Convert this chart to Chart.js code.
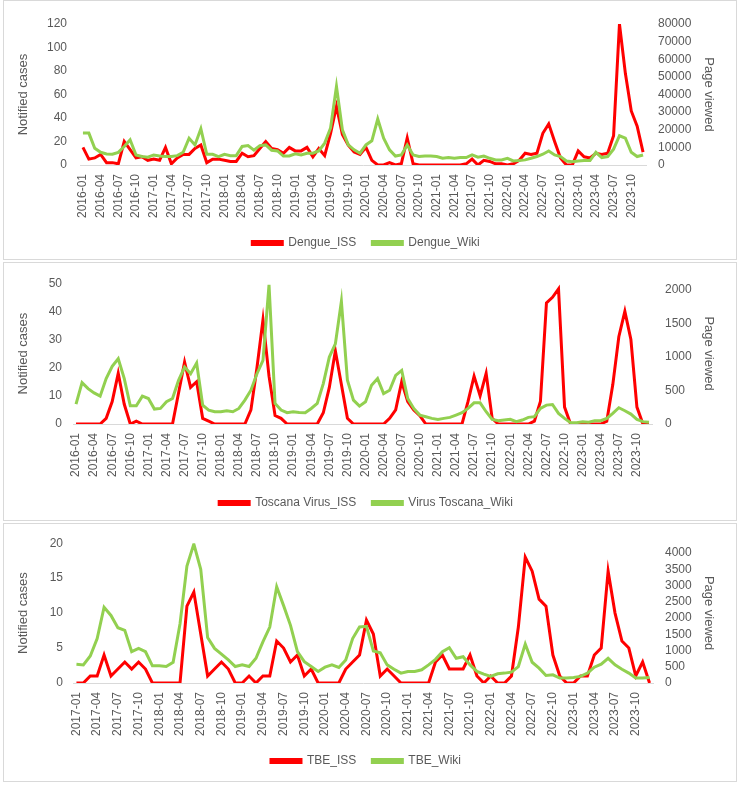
<!DOCTYPE html>
<html>
<head>
<meta charset="utf-8">
<script src="https://cdn.jsdelivr.net/npm/chart.js@4/dist/chart.umd.min.js"></script>
<style>
  body { margin: 0; background: #fff; }
  .panel { position: absolute; left: 3px; width: 732px; border: 1px solid #d9d9d9; background: #fff; }
  canvas { display: block; }
</style>
</head>
<body>
<div class="panel" style="top:0px;height:258px"><canvas id="dengue" width="732" height="258"></canvas></div>
<div class="panel" style="top:262px;height:257px"><canvas id="toscana" width="732" height="257"></canvas></div>
<div class="panel" style="top:523px;height:257px"><canvas id="tbe" width="732" height="257"></canvas></div>
<script>
// monthly values
var dengue_iss = [15,5,6,9,2,2,1,20,13,6,7,4,
  5,4,15,1,6,9,9,14,17,2,5,5,
  4,3,3,10,7,8,14,20,14,13,10,15,
  12,12,15,7,14,8,27,50,26,17,11,9,
  15,4,0,0,2,0,1,23,1,0,0,0,
  0,0,0,0,0,1,5,0,4,3,1,1,
  0,1,4,10,9,10,27,35,20,6,0,0,
  12,7,6,10,9,10,25,120,78,46,33,11];
var dengue_wiki = [18100,18100,9500,7200,6300,6100,7200,10500,14300,5700,4800,4400,
  5700,5100,4800,4800,5300,7200,15200,11400,20600,6100,6100,4800,
  6100,5300,5300,10500,11000,8400,11000,11400,8400,8000,5100,5100,
  6300,5700,6700,6700,8000,12400,21000,44600,20000,11400,8600,6700,
  11400,13700,26100,15200,8600,5100,5700,11400,5700,4800,5100,5100,
  4800,3800,4200,3800,4200,4200,5700,4400,5100,3800,2900,2900,
  3800,2300,2500,2900,3800,4800,6100,8000,5700,4800,2300,1900,
  2300,2500,2500,7200,4200,4800,9000,16600,15200,7200,4800,5700];

var toscana_iss = [0,0,0,0,0,2,8,18,7,0,1,0,
  0,0,0,0,0,11,22,13,15,2,1,0,
  0,0,0,0,0,5,20,37,17,3,2,0,
  0,0,0,0,0,4,13,26,14,2,0,0,
  0,0,0,0,2,5,15,8,5,3,0,0,
  0,0,0,0,0,8,17,10,18,2,0,0,
  0,0,0,0,1,8,43,45,48,6,0,0,
  0,0,0,0,1,14,31,40,30,6,0,0];
var toscana_wiki = [296,617,528,464,415,677,860,973,677,272,272,415,
  380,222,232,331,380,652,850,750,909,282,207,183,
  183,198,183,232,356,504,750,948,2075,306,207,168,
  183,173,168,232,306,603,998,1195,1828,652,356,267,
  331,578,677,454,504,726,800,380,232,133,109,84,
  69,84,99,133,168,232,316,316,183,69,49,59,
  69,35,59,99,109,232,282,291,158,84,20,20,
  35,25,49,49,84,158,242,198,148,69,35,25];

var tbe_iss = [0,0,1,1,4,1,2,3,2,3,2,0,
  0,0,0,0,11,13,7,1,2,3,2,0,
  0,1,0,1,1,6,5,3,4,1,2,0,
  0,0,0,2,3,4,9,7,1,2,1,0,
  0,0,0,0,3,4,2,2,2,4,1,0,
  1,0,0,1,8,18,16,12,11,4,1,0,
  0,1,1,4,5,16,10,6,5,1,3,0];
var tbe_wiki = [577,557,831,1368,2330,2077,1700,1620,962,1064,962,527,
  527,506,638,1823,3596,4275,3495,1398,1064,891,709,506,
  557,506,760,1266,1722,2958,2380,1773,962,658,506,355,
  486,557,476,709,1368,1722,1742,983,932,557,425,304,
  355,355,405,557,729,962,1084,760,810,557,355,274,
  203,284,304,334,506,1195,638,456,233,253,152,152,
  172,203,304,486,577,760,557,425,304,152,152,172];

// right-axis tick labels
var dengue_views_ticks = [0,10000,20000,30000,40000,50000,60000,70000,80000];
var toscana_views_ticks = [0,500,1000,1500,2000];
var tbe_views_ticks = [0,500,1000,1500,2000,2500,3000,3500,4000];

function months(startYear, endYear) {
  var out = [];
  for (var y = startYear; y <= endYear; y++) {
    for (var m = 1; m <= 12; m++) {
      out.push(y + "-" + (m < 10 ? "0" + m : m));
    }
  }
  return out;
}

var labels_2016 = months(2016, 2023);
var labels_2017 = months(2017, 2023);

var FONT = "'Liberation Sans', Arial, sans-serif";
var GREY = "#595959";
Chart.defaults.font.family = FONT;
Chart.defaults.color = GREY;

function makePanel(id, labels, names, iss, wiki, rticks, o) {
  var ctx = document.getElementById(id).getContext("2d");
  return new Chart(ctx, {
    type: "line",
    data: {
      labels: labels,
      datasets: [
        { label: names[0], data: iss, yAxisID: "y", borderColor: "#FF0000", backgroundColor: "#FF0000",
          borderWidth: 3, pointRadius: 0, tension: 0, order: 1 },
        { label: names[1], data: wiki, yAxisID: "y1", borderColor: "#92D050", backgroundColor: "#92D050",
          borderWidth: 3, pointRadius: 0, tension: 0, order: 0 }
      ]
    },
    options: {
      responsive: false,
      animation: false,
      layout: { padding: { left: 8, right: 16, top: o.top, bottom: o.bottom } },
      plugins: {
        tooltip: { enabled: false },
        legend: {
          position: "bottom",
          labels: {
            boxWidth: 30, boxHeight: 3, padding: 16, color: GREY,
            font: { size: 12 },
            sort: function(a, b) { return a.datasetIndex - b.datasetIndex; }
          }
        }
      },
      scales: {
        x: {
          offset: true,
          grid: { display: false, drawTicks: false },
          border: { display: true, color: "#d9d9d9", width: 1 },
          ticks: {
            autoSkip: false, minRotation: 90, maxRotation: 90, padding: 9,
            font: { size: 12 }, color: GREY,
            callback: function(v, i) { return i % 3 === 0 ? this.getLabelForValue(v) : ""; }
          },
          afterFit: function(s) { s.height = o.xh; }
        },
        y: {
          position: "left",
          min: 0, max: o.lmax,
          grid: { display: false, drawTicks: false },
          border: { display: false },
          ticks: { stepSize: o.lstep, padding: o.lpad, font: { size: 12 }, color: GREY },
          title: { display: true, text: "Notified cases", color: GREY, font: { size: 13 } },
          afterFit: function(s) { s.width = o.lw; }
        },
        y1: {
          position: "right",
          min: 0, max: o.rmax,
          grid: { display: false, drawTicks: false },
          border: { display: false },
          ticks: {
            autoSkip: false, padding: o.rpad, font: { size: 12 }, color: GREY,
            callback: function(v) { return String(v); }
          },
          afterBuildTicks: function(s) {
            s.ticks = rticks.map(function(v) { return { value: v }; });
          },
          title: { display: true, text: "Page viewed", color: GREY, font: { size: 13 } },
          afterFit: function(s) { s.width = o.rw; }
        }
      }
    }
  });
}

makePanel("dengue", labels_2016, ["Dengue_ISS", "Dengue_Wiki"], dengue_iss, dengue_wiki, dengue_views_ticks,
  { top: 23, bottom: 0, xh: 56, lw: 68, rw: 74, lmax: 120, lstep: 20, rmax: 80000, lpad: 13, rpad: 12 });

makePanel("toscana", labels_2016, ["Toscana Virus_ISS", "Virus Toscana_Wiki"], toscana_iss, toscana_wiki, toscana_views_ticks,
  { top: 20, bottom: 1, xh: 57, lw: 61, rw: 68, lmax: 50, lstep: 10, rmax: 2100, lpad: 11, rpad: 13 });

makePanel("tbe", labels_2017, ["TBE_ISS", "TBE_Wiki"], tbe_iss, tbe_wiki, tbe_views_ticks,
  { top: 18, bottom: 4, xh: 56, lw: 61, rw: 67, lmax: 20, lstep: 5, rmax: 4300, lpad: 10, rpad: 12 });
</script>
</body>
</html>
